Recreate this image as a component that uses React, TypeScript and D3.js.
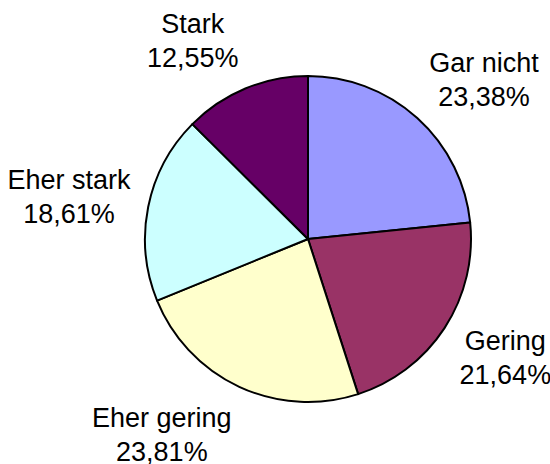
import React from "react";
import * as d3 from "d3";

const categories = ["Gar nicht", "Gering", "Eher gering", "Eher stark", "Stark"];
const values = [23.38, 21.64, 23.81, 18.61, 12.55];
const valueLabels = ["23,38%", "21,64%", "23,81%", "18,61%", "12,55%"];
const colors = ["#9999FF", "#993366", "#FFFFCC", "#CCFFFF", "#660066"];

const W = 550;
const H = 464;
const CX = 308;
const CY = 239;
const R = 163;
const FONT = 27;
const LINE = 34;
const FAMILY = "'Liberation Sans', Arial, sans-serif";

function measure(text: string): number {
  if (typeof document === "undefined") return text.length * FONT * 0.55;
  const c = document.createElement("canvas");
  const ctx = c.getContext("2d");
  if (!ctx) return text.length * FONT * 0.55;
  ctx.font = `${FONT}px ${FAMILY}`;
  return ctx.measureText(text).width;
}

export default function App() {
  const pie = d3
    .pie<number>()
    .sort(null)
    .value((d) => d);
  const arcs = pie(values);
  const arcGen = d3.arc<d3.PieArcDatum<number>>().innerRadius(0).outerRadius(R);

  return (
    <svg
      width={W}
      height={H}
      style={{ position: "absolute", left: 0, top: 0, background: "#fff" }}
    >
      <g transform={`translate(${CX},${CY})`}>
        {arcs.map((a, i) => (
          <path
            key={i}
            d={arcGen(a) || ""}
            fill={colors[i]}
            stroke="#000"
            strokeWidth={2}
            strokeLinejoin="round"
          />
        ))}
      </g>
      {arcs.map((a, i) => {
        const mid = (a.startAngle + a.endAngle) / 2;
        const s = Math.sin(mid);
        const c = Math.cos(mid);
        const rr = R + 18;
        const w = Math.max(measure(categories[i]), measure(valueLabels[i]));
        const cap = FONT * 0.716;
        const hh = (LINE + cap) / 2;
        const bx = CX + rr * s + (w / 2) * Math.sign(s);
        const by = CY - rr * c - 1.3 * c * hh;
        const base1 = by - LINE / 2 + cap / 2;
        return (
          <text
            key={i}
            x={bx}
            y={base1}
            textAnchor="middle"
            fontFamily={FAMILY}
            fontSize={FONT}
            fill="#000"
          >
            <tspan x={bx} y={base1}>
              {categories[i]}
            </tspan>
            <tspan x={bx} y={base1 + LINE}>
              {valueLabels[i]}
            </tspan>
          </text>
        );
      })}
    </svg>
  );
}
